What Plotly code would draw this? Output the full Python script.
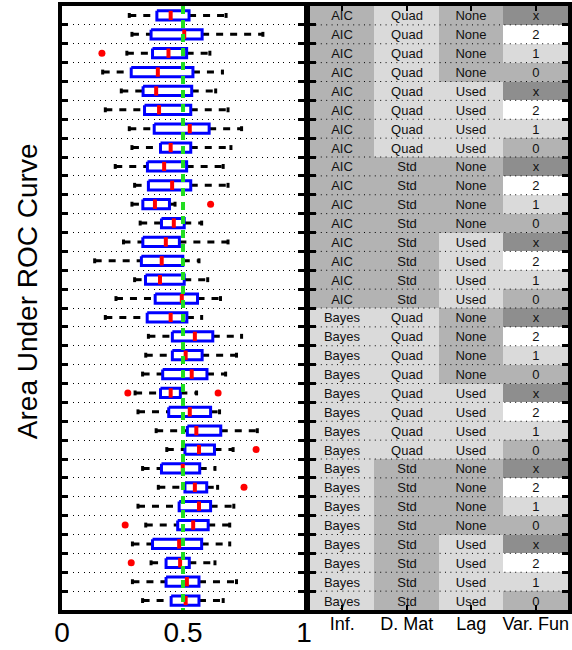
import plotly.graph_objects as go

# ---------------- data ----------------
rows = list(range(1, 33))
whisker_lo = [0.278, 0.289, 0.268, 0.168, 0.245, 0.179, 0.278, 0.289,
              0.220, 0.300, 0.289, 0.323, 0.254, 0.135, 0.300, 0.223,
              0.179, 0.357, 0.346, 0.333, 0.302, 0.314, 0.389, 0.433,
              0.333, 0.398, 0.314, 0.346, 0.291, 0.368, 0.291, 0.333]
q1 = [0.392, 0.368, 0.374, 0.286, 0.335, 0.341, 0.381, 0.407,
      0.353, 0.357, 0.334, 0.411, 0.334, 0.328, 0.345, 0.385,
      0.352, 0.456, 0.456, 0.416, 0.407, 0.441, 0.518, 0.508,
      0.411, 0.508, 0.484, 0.478, 0.374, 0.430, 0.430, 0.451]
median = [0.449, 0.505, 0.440, 0.396, 0.389, 0.401, 0.528, 0.449,
          0.422, 0.455, 0.384, 0.462, 0.429, 0.412, 0.405, 0.495,
          0.449, 0.549, 0.511, 0.536, 0.449, 0.528, 0.555, 0.566,
          0.499, 0.549, 0.566, 0.542, 0.484, 0.488, 0.516, 0.511]
q3 = [0.525, 0.579, 0.515, 0.541, 0.536, 0.532, 0.608, 0.532,
      0.515, 0.532, 0.444, 0.505, 0.485, 0.499, 0.505, 0.560,
      0.516, 0.623, 0.579, 0.599, 0.489, 0.614, 0.656, 0.630,
      0.569, 0.598, 0.614, 0.604, 0.577, 0.526, 0.566, 0.566]
whisker_hi = [0.678, 0.830, 0.611, 0.663, 0.635, 0.686, 0.742, 0.698,
              0.666, 0.686, 0.467, 0.577, 0.686, 0.566, 0.602, 0.655,
              0.577, 0.742, 0.721, 0.676, 0.556, 0.651, 0.807, 0.707,
              0.632, 0.643, 0.710, 0.693, 0.693, 0.632, 0.721, 0.666]
outlier_row = [3, 11, 21, 21, 24, 26, 28, 30]
outlier_val = [0.165, 0.614, 0.272, 0.645, 0.802, 0.752, 0.261, 0.286]
reference_auc = 0.5

x_tick_vals = [0, 0.5, 1]
x_tick_text = ["0", "0.5", "1"]
y_title = "Area Under ROC Curve"

inference = ["AIC"] * 16 + ["Bayes"] * 16
design_matrix = (["Quad"] * 8 + ["Std"] * 8) * 2
lag = (["None"] * 4 + ["Used"] * 4) * 4
var_fun = ["x", "2", "1", "0"] * 8
table_columns = ["Inf.", "D. Mat", "Lag", "Var. Fun"]

# ---------------- styles ----------------
FONT = "Liberation Sans, Arial, Helvetica, sans-serif"
shade = {  # 0 white, 1 light, 2 medium, 3 dark
    "AIC": 2, "Bayes": 1,
    "Quad": 1, "Std": 2,
    "None": 2, "Used": 1,
    "x": 3, "2": 0, "1": 1, "0": 2,
}
HALF = 0.245   # box half-height in row units
CAP = 0.13

# ---------------- box-plot marks ----------------
wx, wy = [], []
for r, lo, a, b, hi in zip(rows, whisker_lo, q1, q3, whisker_hi):
    wx += [lo, a, None, b, hi, None]
    wy += [r, r, None, r, r, None]
cx, cy = [], []
for r, lo, hi in zip(rows, whisker_lo, whisker_hi):
    cx += [lo, lo, None, hi, hi, None]
    cy += [r - CAP, r + CAP, None, r - CAP, r + CAP, None]
bx, by = [], []
for r, a, b in zip(rows, q1, q3):
    bx += [a, b, b, a, a, None]
    by += [r - HALF, r - HALF, r + HALF, r + HALF, r - HALF, None]
mx, my = [], []
for r, m in zip(rows, median):
    mx += [m, m, None]
    my += [r - HALF, r + HALF, None]

fig = go.Figure()
fig.add_trace(go.Scatter(x=wx, y=wy, mode="lines", hoverinfo="skip",
                         line=dict(color="black", width=3, dash="7px,7px")))
fig.add_trace(go.Scatter(x=cx, y=cy, mode="lines", hoverinfo="skip",
                         line=dict(color="black", width=3)))
fig.add_trace(go.Scatter(x=bx, y=by, mode="lines", fill="toself",
                         fillcolor="white", hoverinfo="skip",
                         line=dict(color="#0000ff", width=3)))
fig.add_trace(go.Scatter(x=mx, y=my, mode="lines", hoverinfo="skip",
                         line=dict(color="#ff0000", width=4)))
fig.add_trace(go.Scatter(x=[reference_auc, reference_auc],
                         y=[0.5, len(rows) + 0.5], mode="lines",
                         hoverinfo="skip",
                         line=dict(color="#22dd22", width=4, dash="8px,6px")))
fig.add_trace(go.Scatter(x=outlier_val, y=outlier_row, mode="markers",
                         hoverinfo="skip",
                         marker=dict(color="#ff0000", size=7, symbol="circle")))

# ---------------- table ----------------
table_cols = [inference, design_matrix, lag, var_fun]
z = [[shade[col[i]] for col in table_cols] for i in range(len(rows))]
txt = [[col[i] for col in table_cols] for i in range(len(rows))]
fig.add_trace(go.Heatmap(
    x=list(range(4)), y=rows, z=z, text=txt, texttemplate="%{text}",
    textfont=dict(family=FONT, size=13, color="#111111"),
    zmin=0, zmax=3, showscale=False, hoverinfo="skip",
    colorscale=[[0, "#ffffff"], [1 / 3, "#dadada"],
                [2 / 3, "#b3b3b3"], [1, "#8e8e8e"]],
    xaxis="x2", yaxis="y2"))
sx, sy = [], []
for k in range(1, len(rows)):
    sx += [-0.5, 3.5, None]
    sy += [k + 0.5, k + 0.5, None]
fig.add_trace(go.Scatter(x=sx, y=sy, mode="lines", hoverinfo="skip",
                         xaxis="x2", yaxis="y2",
                         line=dict(color="black", width=1, dash="1px,4.4px")))

boundaries = [k + 0.5 for k in range(1, len(rows))]
yrange = [len(rows) + 0.5, 0.5]

fig.update_layout(
    width=572, height=650,
    margin=dict(l=62, r=4, t=6, b=40, autoexpand=False),
    plot_bgcolor="white", paper_bgcolor="white",
    showlegend=False,
    font=dict(family=FONT, color="black"),
    xaxis=dict(domain=[0, 0.4783], range=[0, 1], tickvals=x_tick_vals,
               ticktext=x_tick_text, tickfont=dict(size=28),
               showgrid=False, zeroline=False, showline=True,
               linecolor="black", linewidth=4, mirror=True, ticks="",
               automargin=False, ticklabelstandoff=-6),
    yaxis=dict(range=yrange, tickvals=boundaries, showticklabels=False,
               showgrid=True, gridcolor="black", gridwidth=1,
               griddash="1px,4.4px", zeroline=False, showline=True,
               linecolor="black", linewidth=4, mirror="ticks",
               ticks="inside", ticklen=6, tickwidth=3, tickcolor="black",
               automargin=False),
    xaxis2=dict(domain=[0.4901, 1], range=[-0.5, 3.5], anchor="y2",
                tickvals=list(range(4)), ticktext=table_columns,
                tickfont=dict(size=18), showgrid=False, zeroline=False,
                showline=True, linecolor="black", linewidth=4, mirror="ticks",
                ticks="inside", ticklen=5, tickwidth=2, tickcolor="black",
                layer="above traces", automargin=False, ticklabelstandoff=-6),
    yaxis2=dict(range=yrange, anchor="x2", tickvals=boundaries,
                showticklabels=False, showgrid=False, zeroline=False,
                showline=True, linecolor="black", linewidth=4, mirror="ticks",
                ticks="inside", ticklen=6, tickwidth=3, tickcolor="black",
                layer="above traces", automargin=False),
    annotations=[dict(text=y_title, xref="paper", yref="paper",
                      x=-0.069, y=0.528, xanchor="center", yanchor="middle",
                      textangle=-90, showarrow=False,
                      font=dict(size=28, family=FONT, color="black"))],
)

fig.write_html("out.html", config={"displayModeBar": False},
               post_script="document.body.style.margin='0px';"
                           "document.body.style.padding='0px';")
